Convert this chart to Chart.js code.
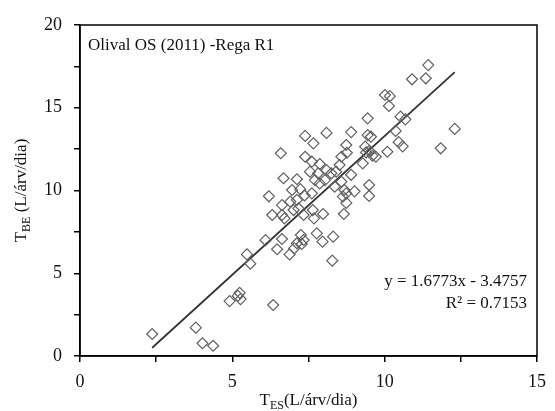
<!DOCTYPE html>
<html>
<head>
<meta charset="utf-8">
<script src="https://cdn.jsdelivr.net/npm/chart.js@4"></script>
<style>
  html, body { margin: 0; padding: 0; background: #fff; }
  #wrap { width: 555px; height: 411px; }
</style>
</head>
<body>
<div id="wrap"><canvas id="chart" width="555" height="411"></canvas></div>
<script>
// ===== Data =====
const tES = [
  2.37, 3.80, 4.02, 4.37, 4.91, 5.18, 5.24, 5.27, 6.34, 5.48,
  5.59, 6.09, 6.47, 6.63, 6.88, 7.03, 7.12, 7.25, 7.28, 7.34,
  7.77, 7.96, 8.31, 8.28, 6.31, 6.63, 6.71, 7.01, 7.34, 7.64,
  7.68, 7.98, 8.66, 6.20, 6.63, 6.90, 7.12, 7.17, 6.96, 7.23,
  7.37, 6.68, 7.12, 7.71, 7.87, 7.61, 6.59, 7.39, 7.66, 8.09,
  7.39, 7.61, 7.87, 8.09, 7.55, 7.82, 8.04, 8.25, 8.41, 8.58,
  8.74, 8.90, 8.76, 8.52, 8.90, 8.58, 8.36, 8.68, 8.74, 9.01,
  8.63, 8.74, 9.49, 9.49, 9.28, 9.39, 9.50, 9.60, 9.71, 9.36,
  9.44, 9.55, 9.44, 10.01, 10.17, 10.14, 10.09, 10.36, 10.46, 10.59,
  10.52, 10.68, 10.90, 11.35, 11.43, 11.84, 12.30
];
const tBE = [
  1.33, 1.71, 0.77, 0.62, 3.32, 3.63, 3.81, 3.44, 3.08, 6.14,
  5.58, 7.00, 6.45, 7.07, 6.14, 6.50, 6.81, 7.31, 6.77, 7.01,
  7.41, 6.91, 7.21, 5.76, 8.52, 8.52, 8.32, 8.82, 8.52, 8.82,
  8.32, 8.58, 8.58, 9.65, 9.12, 9.33, 9.43, 8.92, 10.03, 10.08,
  9.70, 10.74, 10.68, 10.63, 10.43, 9.83, 12.25, 13.30, 12.85, 13.48,
  12.04, 11.74, 11.60, 11.24, 11.14, 11.04, 10.63, 11.04, 11.14, 12.04,
  12.75, 13.53, 12.28, 11.54, 10.95, 10.53, 10.23, 10.03, 9.83, 9.95,
  9.63, 9.25, 9.67, 10.33, 11.64, 12.30, 12.40, 12.10, 12.04, 12.65,
  13.35, 13.25, 14.36, 15.77, 15.70, 15.11, 12.34, 13.60, 12.92, 12.67,
  14.46, 14.30, 16.72, 16.78, 17.58, 12.55, 13.72
];

// fitted line from the chart label
const trendSlope = 1.6773;
const trendIntercept = -3.4757;
const trendR2 = 0.7153;

const xTicks = [0, 5, 10, 15];
const yTicks = [0, 5, 10, 15, 20];

const titleText = 'Olival OS (2011) -Rega R1';

// ===== Build datasets =====
const points = tES.map((x, i) => ({ x: x, y: tBE[i] }));
const xMin = Math.min(...tES), xMax = Math.max(...tES);
const trend = [xMin, xMax].map(x => ({ x: x, y: trendSlope * x + trendIntercept }));

const serif = "'Liberation Serif', 'Times New Roman', serif";

// box + texts
const decorPlugin = {
  id: 'decor',
  afterDraw(chart) {
    const ctx = chart.ctx;
    const a = chart.chartArea;
    ctx.save();
    ctx.strokeStyle = '#000';
    ctx.lineWidth = 1.5;
    ctx.strokeRect(a.left, a.top, a.right - a.left, a.bottom - a.top);

    ctx.fillStyle = '#111';
    ctx.textBaseline = 'middle';
    ctx.font = '17px ' + serif;
    ctx.textAlign = 'left';
    ctx.fillText(titleText, a.left + 8, a.top + 21);

    ctx.textAlign = 'right';
    ctx.fillText('y = ' + trendSlope + 'x - ' + Math.abs(trendIntercept), a.right - 10, 282);
    ctx.fillText('R² = ' + trendR2, a.right - 10, 304);

    // x axis title with subscript
    drawSubTitle(ctx, 'T', 'ES', '(L/árv/dia)', (a.left + a.right) / 2, 401);

    // y axis title rotated
    ctx.save();
    ctx.translate(22, (a.top + a.bottom) / 2);
    ctx.rotate(-Math.PI / 2);
    drawSubTitle(ctx, 'T', 'BE', ' (L/árv/dia)', 0, 0);
    ctx.restore();

    ctx.restore();
  }
};

function drawSubTitle(ctx, main, sub, rest, cx, cy) {
  const big = '17px ' + serif, small = '12px ' + serif;
  ctx.font = big;
  const w1 = ctx.measureText(main).width;
  const w3 = ctx.measureText(rest).width;
  ctx.font = small;
  const w2 = ctx.measureText(sub).width;
  let x = cx - (w1 + w2 + w3) / 2;
  ctx.textAlign = 'left';
  ctx.textBaseline = 'middle';
  ctx.fillStyle = '#111';
  ctx.font = big;
  ctx.fillText(main, x, cy);
  x += w1;
  ctx.font = small;
  ctx.fillText(sub, x, cy + 5);
  x += w2;
  ctx.font = big;
  ctx.fillText(rest, x, cy);
}

const ctx = document.getElementById('chart').getContext('2d');
new Chart(ctx, {
  type: 'scatter',
  data: {
    datasets: [
      {
        label: 'TBE',
        data: points,
        pointStyle: 'rectRot',
        pointRadius: 5.5,
        pointBorderWidth: 1.2,
        pointBorderColor: '#606060',
        pointBackgroundColor: 'rgba(0,0,0,0)',
        showLine: false
      },
      {
        label: 'trend',
        type: 'line',
        data: trend,
        borderColor: '#333',
        borderWidth: 1.8,
        pointRadius: 0,
        fill: false
      }
    ]
  },
  options: {
    responsive: false,
    animation: false,
    layout: { padding: { left: 0, right: 12, top: 25, bottom: 0 } },
    plugins: { legend: { display: false }, tooltip: { enabled: false } },
    scales: {
      x: {
        type: 'linear',
        min: xTicks[0],
        max: xTicks[xTicks.length - 1],
        afterFit(s) { s.height = 55; },
        afterBuildTicks(s) {
          s.ticks = [];
          for (let v = s.min; v <= s.max + 0.001; v += 2.5) s.ticks.push({ value: v });
        },
        grid: { drawOnChartArea: false, drawTicks: true, tickLength: 6, color: '#000', lineWidth: 1.5 },
        border: { display: true, color: '#000', width: 1.5 },
        ticks: {
          color: '#111',
          padding: 9,
          maxRotation: 0,
          autoSkip: false,
          font: { family: serif, size: 18 },
          callback: v => xTicks.includes(v) ? String(v) : ''
        }
      },
      y: {
        type: 'linear',
        min: yTicks[0],
        max: yTicks[yTicks.length - 1],
        afterFit(s) { s.width = 80; },
        afterBuildTicks(s) {
          s.ticks = [];
          for (let v = s.min; v <= s.max + 0.001; v += 2.5) s.ticks.push({ value: v });
        },
        grid: { drawOnChartArea: false, drawTicks: true, tickLength: 6, color: '#000', lineWidth: 1.5 },
        border: { display: true, color: '#000', width: 1.5 },
        ticks: {
          color: '#111',
          padding: 12,
          autoSkip: false,
          font: { family: serif, size: 18 },
          callback: v => yTicks.includes(v) ? String(v) : ''
        }
      }
    }
  },
  plugins: [decorPlugin]
});
</script>
</body>
</html>
